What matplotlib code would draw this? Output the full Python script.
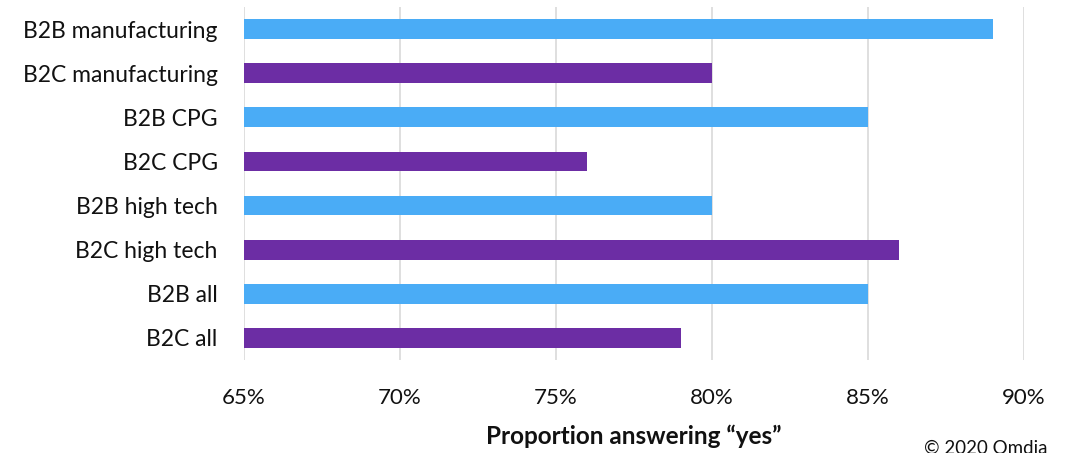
import matplotlib.pyplot as plt
from matplotlib.ticker import FuncFormatter

plt.rcParams['font.family'] = ['Lato', 'DejaVu Sans']

categories = ['B2B manufacturing', 'B2C manufacturing', 'B2B CPG', 'B2C CPG',
              'B2B high tech', 'B2C high tech', 'B2B all', 'B2C all']
values = [89, 80, 85, 76, 80, 86, 85, 79]
segment = ['B2B', 'B2C', 'B2B', 'B2C', 'B2B', 'B2C', 'B2B', 'B2C']
seg_colors = {'B2B': '#4aacf6', 'B2C': '#6c2da4'}

fig = plt.figure(figsize=(10.66, 4.53), dpi=100)
ax = fig.add_axes([0.2289, 0.2053, 0.7317, 0.7792])

ypos = list(range(len(categories)))
ax.barh(ypos, [v - 65 for v in values], left=65, height=0.45,
        color=[seg_colors[s] for s in segment], zorder=3)

ax.set_xlim(65, 90)
ax.set_ylim(len(categories) - 0.5, -0.5)
ax.set_xticks([65, 70, 75, 80, 85, 90])
ax.xaxis.set_major_formatter(FuncFormatter(lambda x, p: f'{x:.0f}%'))
ax.set_yticks(ypos)
ax.set_yticklabels(categories)
ax.tick_params(axis='both', length=0, labelcolor='#111111')
ax.tick_params(axis='y', pad=19, labelsize=16.5)
ax.tick_params(axis='x', pad=20, labelsize=16)

ax.grid(axis='x', color='#d9d9d9', linewidth=1.2, zorder=0)
for s in ax.spines.values():
    s.set_visible(False)

ax.set_xlabel('Proportion answering \u201cyes\u201d', fontsize=17.5, fontweight='bold',
              labelpad=12, color='#111111')
fig.text(0.983, -0.008, '\u00a9 2020 Omdia', ha='right', va='bottom', fontsize=13.5,
         color='#111111')

fig.savefig('out.png', dpi=100)
